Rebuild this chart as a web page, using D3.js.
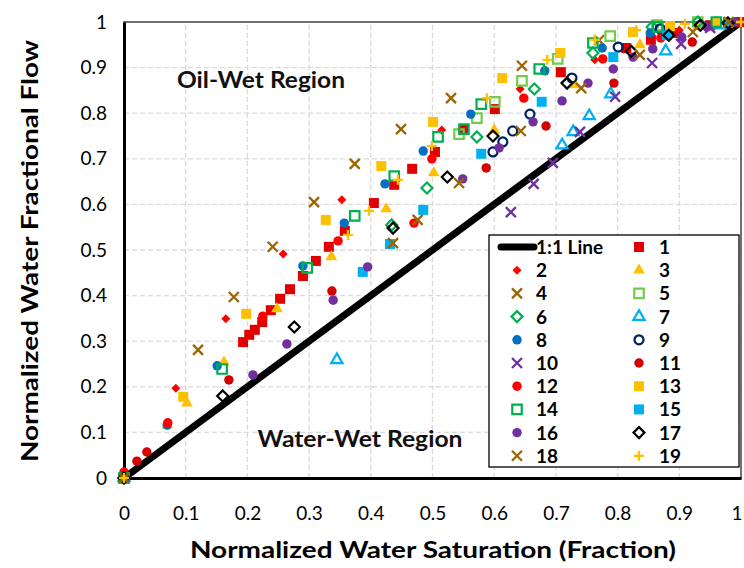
<!DOCTYPE html>
<html>
<head>
<meta charset="utf-8">
<script src="https://cdn.jsdelivr.net/npm/d3@7"></script>
<style>
  body { margin: 0; background: #fff; }
  svg { font-family: Lato, "Open Sans", sans-serif; }
</style>
</head>
<body>
<div id="chart"></div>
<script>
// normalized water saturation / fractional flow pairs
const s1  = [[0,0],[0.193,0.298],[0.203,0.314],[0.212,0.325],[0.224,0.342],[0.238,0.368],[0.253,0.393],[0.269,0.414],[0.29,0.443],[0.311,0.476],[0.332,0.507],[0.358,0.542],[0.405,0.603],[0.438,0.643],[0.467,0.678],[0.504,0.715],[0.551,0.765],[0.601,0.809],[0.708,0.89],[0.814,0.943],[0.854,0.961],[0.896,0.976],[0.95,0.993],[1,1]];
const s2  = [[0,0],[0.084,0.197],[0.165,0.349],[0.258,0.491],[0.353,0.61],[0.515,0.763],[0.642,0.853],[0.763,0.917],[0.9,0.982],[0.99,1]];
const s3  = [[0,0],[0.07,0.116],[0.102,0.164],[0.162,0.254],[0.248,0.371],[0.336,0.485],[0.425,0.59],[0.502,0.669],[0.6,0.763],[0.731,0.862],[0.836,0.95],[0.93,0.99]];
const s4  = [[0,0],[0.12,0.281],[0.178,0.397],[0.241,0.507],[0.308,0.605],[0.374,0.689],[0.449,0.765],[0.53,0.833],[0.645,0.904],[0.77,0.96]];
const s5  = [[0,0],[0.543,0.754],[0.572,0.789],[0.601,0.825],[0.645,0.871],[0.703,0.919],[0.788,0.969],[0.864,0.993],[0.93,1]];
const s6  = [[0,0],[0.434,0.555],[0.491,0.636],[0.572,0.748],[0.665,0.853],[0.76,0.932],[0.856,0.989],[0.93,1]];
const s7  = [[0,0],[0.345,0.259],[0.71,0.73],[0.728,0.759],[0.754,0.794],[0.789,0.842],[0.878,0.936],[0.966,0.993]];
const s8  = [[0,0],[0.07,0.116],[0.151,0.246],[0.29,0.465],[0.357,0.559],[0.423,0.645],[0.485,0.717],[0.562,0.798],[0.682,0.893],[0.775,0.943],[0.853,0.976]];
const s9  = [[0,0],[0.598,0.715],[0.614,0.737],[0.63,0.761],[0.658,0.798],[0.726,0.877],[0.801,0.945],[0.869,0.985],[0.96,1]];
const s10 = [[0,0],[0.627,0.583],[0.664,0.645],[0.695,0.691],[0.739,0.759],[0.796,0.836],[0.856,0.91],[0.903,0.952],[0.95,0.987]];
const s11 = [[0,0],[0.021,0.037],[0.037,0.057],[0.17,0.215],[0.337,0.41],[0.587,0.68],[0.684,0.772],[0.794,0.866],[0.921,0.956],[0.99,1]];
const s12 = [[0,0.013],[0.071,0.121],[0.225,0.355],[0.347,0.52],[0.47,0.559],[0.499,0.7],[0.648,0.833],[0.776,0.919],[0.87,0.965],[0.96,1]];
const s13 = [[0,0],[0.096,0.178],[0.198,0.36],[0.327,0.566],[0.417,0.684],[0.501,0.781],[0.613,0.877],[0.707,0.932],[0.825,0.978],[0.885,0.991],[0.96,1]];
const s14 = [[0,0],[0.159,0.239],[0.297,0.461],[0.374,0.575],[0.438,0.662],[0.509,0.748],[0.551,0.765],[0.579,0.82],[0.673,0.897],[0.76,0.954],[0.865,0.989],[0.96,1]];
const s15 = [[0,0],[0.387,0.452],[0.431,0.513],[0.485,0.588],[0.579,0.711],[0.677,0.825],[0.793,0.923],[0.88,0.971],[0.979,0.998]];
const s16 = [[0,0],[0.209,0.226],[0.264,0.294],[0.339,0.39],[0.395,0.463],[0.549,0.656],[0.608,0.724],[0.663,0.781],[0.71,0.827],[0.752,0.866],[0.793,0.897],[0.825,0.923],[0.857,0.941],[0.904,0.967],[0.945,0.989],[0.99,1]];
const s17 = [[0,0],[0.16,0.18],[0.276,0.331],[0.436,0.548],[0.524,0.66],[0.598,0.75],[0.718,0.866],[0.822,0.936],[0.883,0.971],[0.934,0.993],[0.979,0.998]];
const s18 = [[0,0],[0.436,0.515],[0.476,0.566],[0.543,0.647],[0.643,0.761],[0.741,0.855],[0.836,0.928],[0.922,0.978],[0.98,1]];
const s19 = [[0,0],[0.363,0.533],[0.397,0.586],[0.444,0.654],[0.499,0.728],[0.588,0.833],[0.686,0.917],[0.763,0.961],[0.83,0.982],[0.909,0.996],[1,1]];

const seriesNames = ["1","2","3","4","5","6","7","8","9","10","11","12","13","14","15","16","17","18","19"];
const seriesData = [s1,s2,s3,s4,s5,s6,s7,s8,s9,s10,s11,s12,s13,s14,s15,s16,s17,s18,s19];
const lineLabel = "1:1 Line";
const ticks = [0,0.1,0.2,0.3,0.4,0.5,0.6,0.7,0.8,0.9,1];

// marker look for each series (Excel-style)
const styles = [
  { shape: "square",   color: "#e00000", fill: true },
  { shape: "diamond",  color: "#ff0000", fill: true, small: true },
  { shape: "triangle", color: "#ffc000", fill: true },
  { shape: "x",        color: "#9c6500" },
  { shape: "square",   color: "#72cc4a", fill: false },
  { shape: "diamond",  color: "#00b050", fill: false },
  { shape: "triangle", color: "#00b0f0", fill: false },
  { shape: "circle",   color: "#0070c0", fill: true },
  { shape: "circle",   color: "#002060", fill: false },
  { shape: "x",        color: "#7030a0" },
  { shape: "circle",   color: "#d50000", fill: true },
  { shape: "circle",   color: "#ff0000", fill: true },
  { shape: "square",   color: "#ffc000", fill: true },
  { shape: "square",   color: "#00b050", fill: false },
  { shape: "square",   color: "#00b0f0", fill: true },
  { shape: "circle",   color: "#7030a0", fill: true },
  { shape: "diamond",  color: "#000000", fill: false },
  { shape: "x",        color: "#996600" },
  { shape: "plus",     color: "#ffc000" },
];

const W = 744, H = 568;
const margin = { top: 22, right: 3, bottom: 90, left: 124 };
const x = d3.scaleLinear().domain([0, 1]).range([margin.left, W - margin.right]);
const y = d3.scaleLinear().domain([0, 1]).range([H - margin.bottom, margin.top]);

const svg = d3.select("#chart").append("svg").attr("width", W).attr("height", H);

// dashed grid
svg.append("g").selectAll("line").data(ticks.slice(1, -1)).join("line")
  .attr("x1", d => x(d)).attr("x2", d => x(d))
  .attr("y1", y(0)).attr("y2", y(1))
  .attr("stroke", "#d9d9d9").attr("stroke-width", 1.3).attr("stroke-dasharray", "5,3");
svg.append("g").selectAll("line").data(ticks.slice(1, -1)).join("line")
  .attr("y1", d => y(d)).attr("y2", d => y(d))
  .attr("x1", x(0)).attr("x2", x(1))
  .attr("stroke", "#d9d9d9").attr("stroke-width", 1.3).attr("stroke-dasharray", "5,3");

// frame: thin top/right, heavy left/bottom axes
svg.append("rect").attr("x", x(0)).attr("y", y(1))
  .attr("width", x(1) - x(0)).attr("height", y(0) - y(1))
  .attr("fill", "none").attr("stroke", "#404040").attr("stroke-width", 1.5);

// 1:1 line
svg.append("line")
  .attr("x1", x(0)).attr("y1", y(0)).attr("x2", x(1)).attr("y2", y(1))
  .attr("stroke", "#000").attr("stroke-width", 7);

const xAxis = svg.append("g").attr("transform", `translate(0,${y(0)})`)
  .call(d3.axisBottom(x).tickValues(ticks).tickSize(0).tickPadding(29).tickFormat(d3.format("")));
const yAxis = svg.append("g").attr("transform", `translate(${x(0)},0)`)
  .call(d3.axisLeft(y).tickValues(ticks).tickSize(0).tickPadding(17).tickFormat(d3.format("")));
for (const ax of [xAxis, yAxis]) {
  ax.select(".domain").attr("stroke", "#000").attr("stroke-width", 3);
  ax.selectAll("text").attr("font-size", 19).attr("fill", "#000")
    .attr("font-family", "Lato, 'Open Sans', sans-serif");
}
// last x label sits against the page edge
xAxis.selectAll(".tick").filter(d => d === 1).select("text")
  .attr("text-anchor", "end").attr("dx", 1);

function markerPath(st) {
  const r = 5;
  if (st.shape === "x") return `M${-r},${-r}L${r},${r}M${-r},${r}L${r},${-r}`;
  if (st.shape === "plus") return `M${-r},0L${r},0M0,${-r}L0,${r}`;
  if (st.shape === "diamond") {
    const h = st.small ? 4.5 : 5.5;
    return `M0,${-h}L${h},0L0,${h}L${-h},0Z`;
  }
  if (st.shape === "square") return d3.symbol(d3.symbolSquare, st.fill ? 100 : 90)();
  if (st.shape === "circle") return d3.symbol(d3.symbolCircle, st.fill ? 70 : 64)();
  if (st.shape === "triangle") return d3.symbol(d3.symbolTriangle, st.fill ? 60 : 55)();
}
function styleMarker(sel, st) {
  const stroked = !st.fill || st.shape === "x" || st.shape === "plus";
  sel.attr("d", markerPath(st))
    .attr("fill", stroked ? "none" : st.color)
    .attr("stroke", stroked ? st.color : "none")
    .attr("stroke-width", (st.shape === "x" || st.shape === "plus") ? 2.3 : 2.2);
}

seriesData.forEach((data, i) => {
  const st = styles[i];
  svg.append("g").selectAll("path").data(data).join("path")
    .attr("transform", d => `translate(${x(d[0])},${y(d[1])})`)
    .call(styleMarker, st);
});

// region labels
svg.append("text").attr("x", 261).attr("y", 88).attr("text-anchor", "middle")
  .attr("font-size", 23).attr("font-weight", 700).attr("fill", "#111")
  .attr("textLength", 168).attr("lengthAdjust", "spacingAndGlyphs").text("Oil-Wet Region");
svg.append("text").attr("x", 360).attr("y", 447).attr("text-anchor", "middle")
  .attr("font-size", 23).attr("font-weight", 700).attr("fill", "#111")
  .attr("textLength", 205).attr("lengthAdjust", "spacingAndGlyphs").text("Water-Wet Region");

// axis titles
svg.append("text").attr("x", 433).attr("y", 558).attr("text-anchor", "middle")
  .attr("font-size", 22).attr("font-weight", 700)
  .attr("textLength", 486).attr("lengthAdjust", "spacingAndGlyphs")
  .text("Normalized Water Saturation (Fraction)");
svg.append("text").attr("transform", "translate(38,251) rotate(-90)").attr("text-anchor", "middle")
  .attr("font-size", 22).attr("font-weight", 700)
  .attr("textLength", 422).attr("lengthAdjust", "spacingAndGlyphs")
  .text("Normalized Water Fractional Flow");

// legend
const lg = svg.append("g").attr("transform", "translate(489,235)");
lg.append("rect").attr("width", 250).attr("height", 232)
  .attr("fill", "#fff").attr("stroke", "#000").attr("stroke-width", 1.3);
const rowH = 23.2;
const legendItems = [{ label: lineLabel, line: true }].concat(
  seriesNames.map((n, i) => ({ label: n, st: styles[i] })));
legendItems.forEach((it, k) => {
  const col = k % 2, row = Math.floor(k / 2);
  const cy = 12 + row * rowH;
  const mx = col === 0 ? 28 : 150;
  const g = lg.append("g");
  if (it.line) {
    g.append("line").attr("x1", 12).attr("x2", 45).attr("y1", cy).attr("y2", cy)
      .attr("stroke", "#000").attr("stroke-width", 7).attr("stroke-linecap", "round");
  } else {
    g.append("path").attr("transform", `translate(${mx},${cy})`).call(styleMarker, it.st);
  }
  g.append("text").attr("x", col === 0 ? 47 : 170).attr("y", cy + 7)
    .attr("font-size", 19).attr("font-weight", 700).text(it.label);
});
</script>
</body>
</html>
